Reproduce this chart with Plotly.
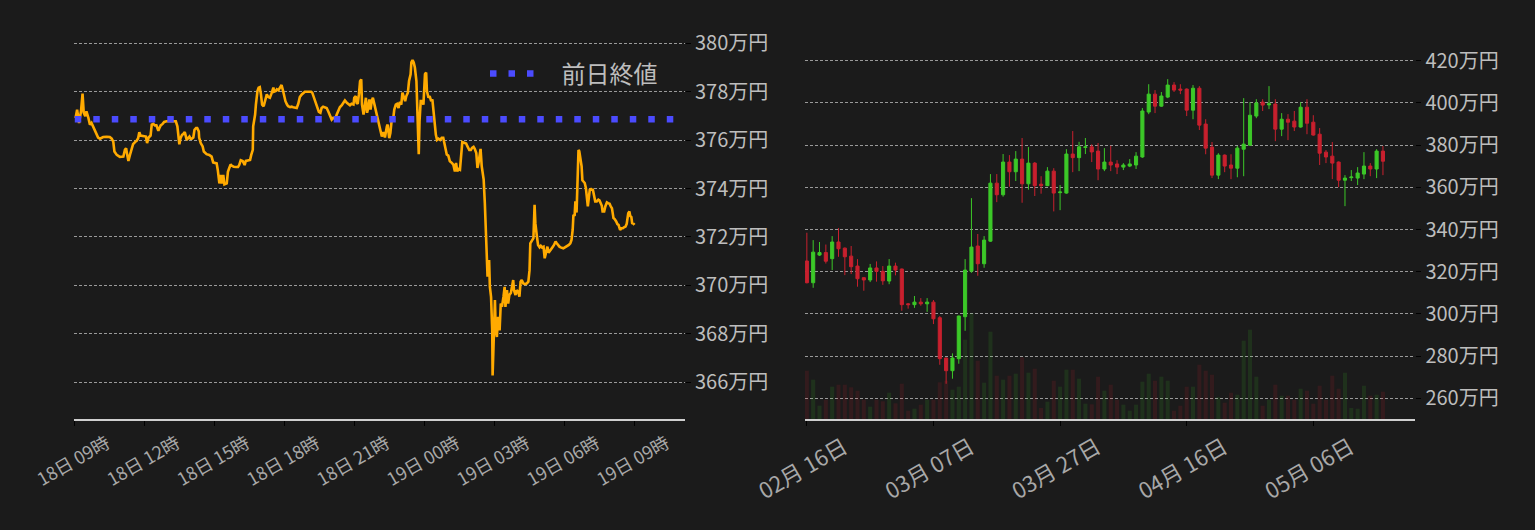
import plotly.graph_objects as go
import pandas as pd

# ---------------- intraday (left) ----------------
intraday_start = "2024-05-18 09:00"
intraday_minutes = [
    2, 6, 11, 16, 20, 23, 27, 30, 35, 39, 43, 47, 52, 56, 60, 65, 69, 73, 82, 90, 95, 99, 102, 108, 116, 125,
    129, 132, 135, 138, 142, 146, 150, 155, 159, 163, 166, 169, 176, 183, 186, 190, 195, 198, 202, 206, 210,
    215, 217, 221, 226, 230, 236, 245, 253, 260, 264, 266, 269, 272, 276, 279, 283, 288, 291, 295, 298, 301,
    305, 308, 312, 315, 319, 320, 324, 329, 332, 339, 346, 352, 356, 361, 365, 368, 372, 375, 379, 382, 385,
    391, 394, 397, 401, 404, 409, 415, 420, 423, 427, 432, 437, 440, 445, 451, 454, 458, 459, 464, 466, 470,
    473, 476, 479, 482, 486, 489, 494, 498, 502, 506, 511, 513, 517, 520, 524, 528, 532, 536, 539, 542, 546,
    549, 554, 558, 562, 567, 571, 575, 579, 584, 588, 592, 601, 608, 611, 615, 618, 621, 625, 628, 632, 635,
    639, 644, 648, 652, 657, 661, 665, 670, 674, 678, 682, 687, 691, 695, 700, 704, 708, 712, 717, 719, 723,
    725, 728, 731, 734, 737, 739, 743, 745, 749, 752, 755, 758, 761, 764, 767, 770, 773, 777, 781, 786, 790,
    794, 798, 803, 805, 809, 812, 815, 819, 822, 826, 829, 833, 836, 840, 843, 847, 850, 853, 857, 860, 864,
    866, 869, 872, 875, 879, 882, 885, 887, 890, 893, 897, 901, 904, 906, 910, 913, 917, 920, 923, 925, 929,
    932, 936, 940, 944, 948, 953, 957, 961, 965, 970, 974, 978, 981, 984, 987, 991, 994, 997, 1002, 1007,
    1010, 1015, 1019, 1022, 1026, 1029, 1033, 1036, 1039, 1041, 1044, 1047, 1050, 1052, 1055, 1057, 1060,
    1062, 1066, 1068, 1071, 1074, 1075, 1078, 1081, 1083, 1086, 1089, 1093, 1096, 1099, 1103, 1106, 1108,
    1112, 1115, 1118, 1122, 1125, 1128, 1130, 1134, 1137, 1141, 1144, 1147, 1150, 1154, 1159, 1163, 1167,
    1170, 1172, 1177, 1180, 1183, 1185, 1189, 1192, 1196, 1199, 1202, 1206, 1209, 1213, 1216, 1219, 1223,
    1226, 1230, 1233, 1237, 1240, 1244, 1247, 1250, 1254, 1257, 1261, 1264, 1268, 1271, 1275, 1278, 1281,
    1283, 1286, 1288, 1291, 1293, 1296, 1298, 1301, 1304, 1306, 1309, 1312, 1315, 1317, 1320, 1323, 1325,
    1328, 1330, 1333, 1336, 1339, 1343, 1347, 1350, 1353, 1356, 1358, 1362, 1365, 1369, 1372, 1376, 1379,
    1382, 1386, 1389, 1393, 1396, 1399, 1403, 1406, 1410, 1413, 1417, 1420, 1424, 1427, 1429, 1432, 1434,
    1438, 1440,
]
intraday_price = [
    376.92, 377.26, 376.71, 377.19, 377.92, 377.13, 376.99, 377.19, 376.92, 376.64, 376.71, 376.57, 376.43,
    376.22, 376.11, 376.06, 376.11, 376.13, 376.14, 376.13, 376.06, 375.94, 375.53, 375.39, 375.31, 375.32,
    375.60, 375.67, 375.39, 375.14, 375.39, 375.67, 375.83, 375.92, 375.97, 376.08, 376.33, 376.19, 376.18,
    376.15, 375.88, 376.11, 376.19, 376.64, 376.67, 376.61, 376.61, 376.39, 376.47, 376.61, 376.67, 376.75,
    376.78, 376.78, 376.78, 376.78, 376.57, 376.22, 375.83, 376.08, 376.22, 376.25, 376.33, 376.01, 376.08,
    376.15, 376.06, 376.06, 376.11, 376.43, 376.50, 376.50, 376.36, 376.11, 375.88, 375.74, 375.53, 375.42,
    375.39, 375.32, 375.08, 375.04, 375.04, 374.76, 374.21, 374.56, 374.21, 374.56, 374.17, 374.21, 374.69,
    374.83, 375.00, 374.94, 374.90, 374.89, 374.89, 374.97, 375.17, 375.14, 374.97, 375.14, 375.17, 375.18,
    375.39, 375.60, 376.57, 377.06, 377.47, 378.03, 378.17, 378.19, 377.89, 377.47, 377.40, 377.61, 377.89,
    377.78, 377.75, 377.92, 378.17, 378.00, 378.03, 378.10, 378.06, 378.17, 378.28, 378.03, 377.78, 377.61,
    377.47, 377.40, 377.36, 377.38, 377.36, 377.33, 377.33, 377.50, 377.78, 377.89, 377.96, 378.00, 378.00,
    378.00, 377.96, 377.78, 377.61, 377.47, 377.26, 377.17, 377.13, 377.33, 377.38, 377.36, 377.33, 377.19,
    376.99, 376.85, 376.92, 376.89, 377.06, 377.26, 377.36, 377.44, 377.57, 377.64, 377.54, 377.47, 377.44,
    377.50, 377.47, 377.75, 377.82, 377.54, 377.50, 377.89, 378.44, 378.51, 377.47, 377.06, 377.33, 377.75,
    377.13, 377.33, 377.68, 377.26, 377.61, 377.75, 377.54, 377.33, 377.06, 376.67, 376.36, 376.15, 376.33,
    376.11, 376.57, 376.64, 376.08, 376.29, 376.78, 376.85, 377.26, 377.47, 377.50, 377.33, 377.58, 377.47,
    377.96, 377.68, 377.61, 377.82, 377.96, 378.44, 378.72, 379.21, 379.31, 379.21, 379.00, 378.44, 376.78,
    375.42, 376.78, 377.61, 377.61, 377.47, 378.72, 378.79, 378.03, 377.75, 377.82, 377.61, 377.68, 377.19,
    376.64, 376.22, 376.01, 376.06, 376.01, 376.10, 376.10, 375.61, 375.41, 375.36, 375.13, 375.06, 374.99,
    374.71, 375.06, 374.71, 374.81, 374.78, 375.34, 375.92, 375.89, 375.86, 375.75, 375.59, 375.59, 375.68,
    375.72, 375.64, 375.47, 374.85, 375.09, 375.34, 375.64, 374.92, 374.44, 374.37, 373.40, 372.29, 371.19,
    370.36, 371.05, 369.94, 369.53, 368.14, 366.28, 367.59, 369.39, 368.14, 367.87, 368.70, 368.14, 369.25,
    369.11, 369.53, 369.94, 369.11, 369.80, 369.25, 369.60, 369.69, 369.94, 370.22, 369.80, 369.60, 369.80,
    369.73, 369.53, 370.15, 370.22, 370.08, 370.05, 370.08, 370.15, 370.63, 371.74, 371.88, 371.95, 373.33,
    372.57, 372.02, 371.67, 371.57, 371.63, 371.57, 371.60, 371.12, 371.46, 371.60, 371.35, 371.46, 371.53,
    371.60, 371.67, 371.81, 371.74, 371.63, 371.60, 371.57, 371.53, 371.53, 371.57, 371.60, 371.63, 371.67,
    371.74, 371.88, 372.29, 372.92, 372.87, 373.47, 373.01, 374.64, 375.59, 375.54, 375.20, 374.92, 374.34,
    374.30, 374.23, 374.02, 373.79, 373.26, 373.68, 373.95, 373.98, 373.95, 373.95, 373.75, 373.47, 373.47,
    373.54, 373.51, 373.40, 373.29, 373.05, 373.05, 373.26, 373.43, 373.40, 373.37, 373.26, 373.19, 372.78,
    372.74, 372.64, 372.53, 372.50, 372.29, 372.36, 372.36, 372.40, 372.43, 372.54, 372.98, 373.05, 372.87,
    372.82, 372.57, 372.54, 372.50,
]
prev_close = 376.86
prev_close_x = ["2024-05-18 09:00", "2024-05-19 11:00"]
left_ticks = [366, 368, 370, 372, 374, 376, 378, 380]

# ---------------- daily (right) ----------------
day_start = "2024-02-16"
opens = [
    325.1, 314.8, 327.9, 329.1, 326.2, 334.1, 331.2, 327.4, 322.7, 317.2, 316.1, 321.8, 320.2, 315.6, 322.7,
    321.3, 304.8, 304.4, 305.6, 304.8, 305.6, 298.2, 279.1, 273.1, 278.8, 298.7, 320.3, 332.2, 323.8, 334.5,
    362.0, 356.5, 372.0, 367.4, 373.4, 361.7, 371.5, 361.5, 360.8, 367.7, 357.5, 357.3, 375.8, 374.1, 378.9,
    379.2, 377.2, 368.7, 372.0, 371.1, 369.6, 370.1, 370.6, 374.4, 395.7, 404.2, 398.5, 402.8, 408.5, 406.6,
    406.6, 396.6, 407.0, 390.0, 379.1, 365.8, 375.3, 370.6, 369.1, 378.1, 380.0, 393.8, 400.4, 399.1, 399.5,
    387.6, 392.3, 391.4, 388.6, 398.0, 390.9, 385.2, 376.7, 374.8, 372.0, 363.4, 364.6, 364.4, 366.3, 370.1,
    368.7, 377.2,
]
highs = [
    338.5, 335.0, 334.1, 332.9, 336.9, 340.7, 331.5, 332.2, 326.0, 317.4, 323.7, 324.9, 322.7, 326.0, 324.3,
    321.5, 305.2, 308.5, 307.5, 307.5, 306.6, 299.0, 279.3, 281.3, 299.2, 326.0, 354.9, 337.9, 336.9, 366.3,
    366.3, 375.8, 375.3, 377.2, 383.4, 379.1, 372.0, 365.3, 369.6, 369.1, 361.1, 378.1, 386.7, 381.6, 383.4,
    380.4, 381.0, 378.6, 379.7, 372.9, 371.5, 373.4, 376.7, 397.6, 408.9, 406.1, 405.2, 411.3, 409.9, 408.9,
    406.9, 408.5, 408.0, 392.3, 381.5, 376.2, 375.6, 375.7, 379.6, 402.3, 400.4, 401.8, 401.8, 408.0, 401.8,
    395.2, 394.7, 396.2, 400.4, 401.8, 394.2, 388.1, 377.7, 381.5, 372.3, 365.8, 368.2, 369.6, 376.7, 371.5,
    378.1, 379.6,
]
lows = [
    314.5, 312.4, 327.5, 323.9, 320.8, 327.1, 318.4, 318.9, 312.9, 311.0, 315.1, 315.3, 313.8, 314.1, 318.3,
    301.5, 302.5, 302.9, 303.9, 301.0, 295.2, 275.9, 266.9, 269.3, 276.4, 292.0, 319.5, 318.1, 321.9, 334.2,
    353.0, 355.6, 360.3, 363.0, 352.7, 358.9, 355.9, 357.0, 360.6, 348.6, 349.2, 357.0, 367.2, 367.7, 375.8,
    372.0, 363.4, 367.7, 367.7, 366.3, 368.2, 369.6, 368.7, 374.0, 394.7, 395.2, 398.2, 402.3, 405.2, 404.2,
    393.8, 392.3, 387.2, 375.7, 364.4, 363.9, 367.2, 363.9, 364.8, 365.3, 379.6, 392.8, 396.2, 397.1, 381.9,
    384.3, 382.4, 386.7, 388.3, 385.2, 384.5, 370.6, 371.5, 363.9, 360.1, 351.1, 363.0, 361.1, 363.9, 365.3,
    364.4, 365.8,
]
closes = [
    314.8, 329.3, 329.1, 325.0, 334.1, 330.9, 327.1, 322.4, 316.7, 316.1, 321.8, 320.2, 315.7, 322.7, 320.8,
    304.4, 304.4, 305.6, 304.8, 305.6, 297.7, 278.8, 273.1, 279.1, 299.0, 320.8, 331.7, 323.8, 335.0, 362.0,
    356.5, 372.0, 367.4, 373.4, 361.7, 371.5, 360.8, 360.8, 367.7, 357.3, 357.8, 375.8, 374.1, 379.2, 379.2,
    376.8, 368.7, 372.0, 370.6, 369.6, 370.6, 371.1, 374.8, 396.2, 404.2, 398.5, 403.3, 408.5, 406.1, 406.1,
    396.6, 407.0, 389.5, 378.6, 365.8, 375.3, 370.1, 369.1, 378.6, 380.5, 394.2, 400.0, 399.0, 399.6, 387.6,
    392.3, 390.9, 388.6, 398.0, 390.4, 384.8, 376.2, 374.4, 371.5, 363.4, 364.4, 364.9, 366.8, 370.1, 368.7,
    377.2, 372.4,
]
volumes = [
    483, 393, 133, 193, 323, 343, 343, 317, 283, 193, 123, 193, 177, 263, 157, 353, 83, 103, 143, 193, 193,
    367, 383, 293, 323, 793, 1057, 583, 363, 873, 433, 393, 433, 453, 617, 463, 503, 110, 173, 383, 323, 493,
    493, 403, 153, 147, 423, 283, 343, 193, 143, 83, 143, 373, 453, 383, 423, 383, 83, 133, 323, 323, 543,
    483, 443, 217, 163, 263, 243, 783, 893, 423, 133, 193, 343, 233, 233, 193, 303, 283, 153, 333, 193, 433,
    303, 463, 110, 103, 333, 233, 243, 273,
]
right_ticks = [260, 280, 300, 320, 340, 360, 380, 400, 420]

# ---------------- styling ----------------
BG = "#1b1b1b"
FONT = "Noto Sans CJK JP"
GREEN = "#3cc828"
RED = "#c8202e"
W, H = 1535, 530

t_intraday = pd.Timestamp(intraday_start) + pd.to_timedelta(intraday_minutes, unit="m")
dates = pd.date_range(day_start, periods=len(opens), freq="D")
vol_colors = ["rgba(60,200,40,0.13)" if c >= o else "rgba(200,30,40,0.14)" for o, c in zip(opens, closes)]

fig = go.Figure()
fig.add_trace(go.Scatter(x=t_intraday, y=intraday_price, mode="lines",
                         line=dict(color="#ffaa00", width=2.6), showlegend=False,
                         xaxis="x", yaxis="y"))
fig.add_trace(go.Scatter(x=prev_close_x, y=[prev_close, prev_close], mode="lines",
                         line=dict(color="#4b4bff", width=6.5, dash="6.5px,12px"),
                         name="\u00a0\u00a0\u00a0\u00a0前日終値", xaxis="x", yaxis="y"))
fig.add_trace(go.Bar(x=dates, y=volumes, marker=dict(color=vol_colors, line=dict(width=0)),
                     showlegend=False, xaxis="x2", yaxis="y2"))
fig.add_trace(go.Candlestick(x=dates, open=opens, high=highs, low=lows, close=closes,
                             increasing=dict(line=dict(color=GREEN, width=1), fillcolor=GREEN),
                             decreasing=dict(line=dict(color=RED, width=1), fillcolor=RED),
                             whiskerwidth=0, showlegend=False, xaxis="x2", yaxis="y3"))

grid = dict(showgrid=True, gridcolor="#9a9a9a", gridwidth=1, griddash="3px,2px")
ytick = dict(ticks="outside", ticklen=5, tickcolor="#000000", zeroline=False, showline=False,
             automargin=False, tickfont=dict(family=FONT, size=20, color="#bdbdbd"))
xcommon = dict(type="date", showline=True, linecolor="#cfcfcf", linewidth=2, showgrid=False,
               ticks="outside", ticklen=5, tickcolor="#000000", zeroline=False, automargin=False)

fig.update_layout(
    width=W, height=H, autosize=False,
    paper_bgcolor=BG, plot_bgcolor=BG,
    margin=dict(l=0, r=0, t=30, b=111),
    font=dict(family=FONT, color="#bdbdbd"),
    bargap=0.36,
    xaxis=dict(domain=[74 / W, 685 / W], range=["2024-05-18 08:58", "2024-05-19 11:10"],
               tick0="2024-05-18 09:00", dtick=3 * 3600 * 1000, tickformat="%d日 %H時",
               tickangle=-30, ticklabelshift=32,
               tickfont=dict(family=FONT, size=18, color="#a8a8a8"), anchor="y", **xcommon),
    yaxis=dict(domain=[0, 1], range=[364.48, 380.55], side="right", anchor="x",
               tickvals=left_ticks, ticktext=[f"{v}万円" for v in left_ticks], **grid, **ytick),
    xaxis2=dict(domain=[805 / W, 1415.4 / W], range=["2024-02-15 17:00", "2024-05-22 03:00"],
                tick0="2024-02-16", dtick=20 * 86400 * 1000, tickformat="%m月 %d日",
                tickangle=-30, ticklabelshift=37, rangeslider=dict(visible=False),
                tickfont=dict(family=FONT, size=22, color="#a8a8a8"), anchor="y2", **xcommon),
    yaxis2=dict(domain=[0, 1], range=[0, 3890], anchor="x2", visible=False, automargin=False),
    yaxis3=dict(range=[250.2, 434.6], side="right", anchor="x2", overlaying="y2",
                tickvals=right_ticks, ticktext=[f"{v}万円" for v in right_ticks], **grid, **ytick),
    legend=dict(x=485 / W, y=0.945, xanchor="left", yanchor="top", bgcolor="rgba(0,0,0,0)",
                font=dict(family=FONT, size=24, color="#bdbdbd"), itemwidth=45),
)

fig.write_html(
    "out.html",
    config={"displayModeBar": False},
    post_script="document.body.style.margin='0';document.body.style.background='#1b1b1b';"
                "document.documentElement.style.overflow='hidden';",
)
